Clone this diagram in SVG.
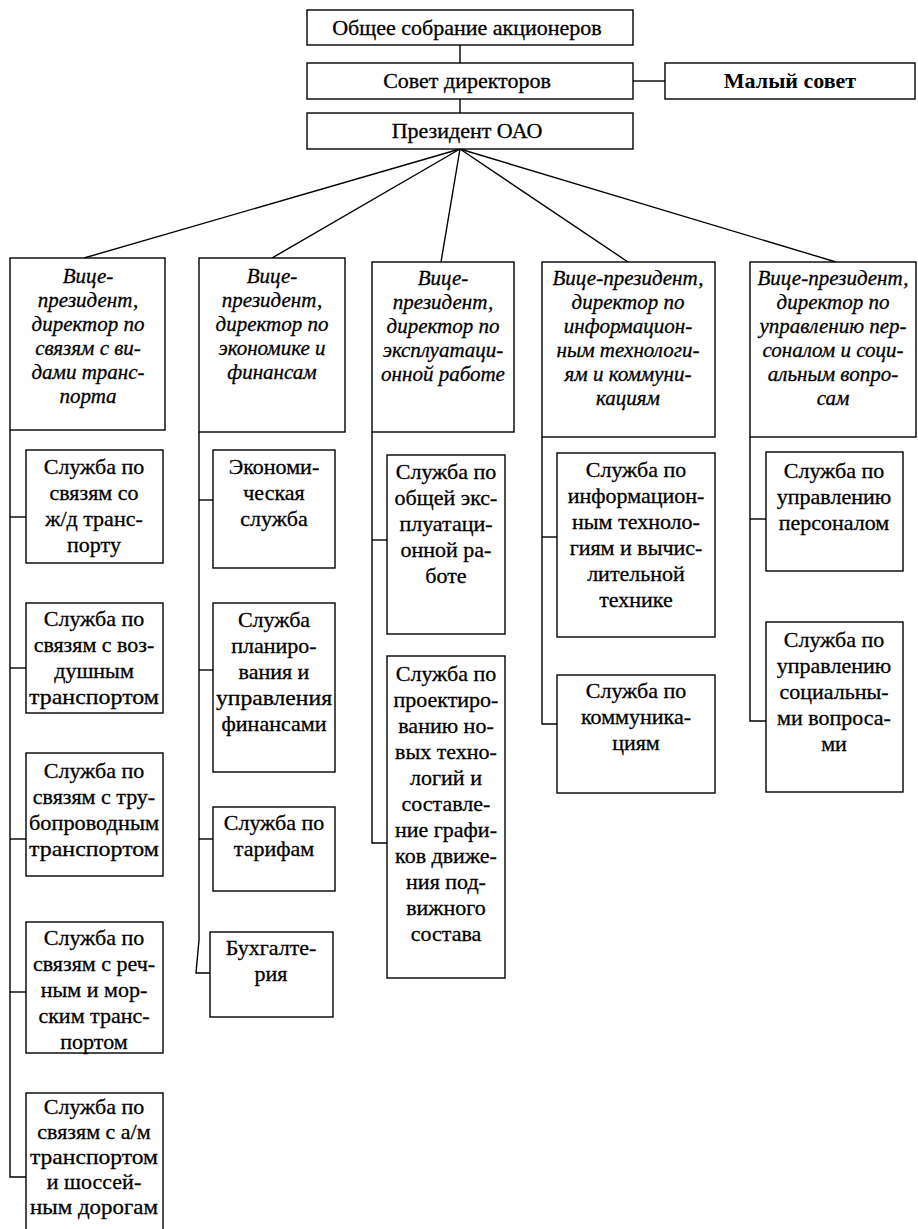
<svg xmlns="http://www.w3.org/2000/svg" width="918" height="1229" viewBox="0 0 918 1229">
<style>
rect{fill:#fff;stroke:#000;stroke-width:1.4}
.c line,.c polyline{stroke:#000;stroke-width:1.4;fill:none}
text{font-family:'Liberation Serif','DejaVu Serif',serif;font-size:22px;fill:#000;stroke:#000;stroke-width:0.3;text-anchor:middle}
.i{font-style:italic;font-size:21px}
.b{font-weight:bold;stroke-width:0}
</style>
<rect x="0" y="0" width="918" height="1229" style="fill:#fff;stroke:none"/>
<g class="c" id="connectors">
<line x1="460" y1="45" x2="460" y2="63"/>
<line x1="460" y1="99" x2="460" y2="113"/>
<line x1="633" y1="81" x2="665" y2="81"/>
<line x1="460" y1="149" x2="84" y2="258"/>
<line x1="460" y1="149" x2="272" y2="258"/>
<line x1="460" y1="149" x2="441" y2="262"/>
<line x1="460" y1="149" x2="628" y2="262"/>
<line x1="460" y1="149" x2="836" y2="262"/>
<polyline points="10,430 10,1177 26,1177"/>
<line x1="10" y1="517" x2="26" y2="517"/>
<line x1="10" y1="668" x2="26" y2="668"/>
<line x1="10" y1="839" x2="26" y2="839"/>
<line x1="10" y1="992" x2="26" y2="992"/>
<polyline points="199,432 199,940 196,973 210,973"/>
<line x1="199" y1="500" x2="213" y2="500"/>
<line x1="199" y1="670" x2="213" y2="670"/>
<line x1="199" y1="839" x2="213" y2="839"/>
<polyline points="372,432 372,843 387,843"/>
<line x1="372" y1="540" x2="387" y2="540"/>
<polyline points="542,437 542,724 557,724"/>
<line x1="542" y1="537" x2="557" y2="537"/>
<polyline points="750,437 750,721 766,721"/>
<line x1="750" y1="519" x2="766" y2="519"/>
</g>
<g id="n-obshee"><rect x="307" y="10" width="326" height="35"/><text x="467" y="35">Общее собрание акционеров</text></g>
<g id="n-sovet"><rect x="307" y="63" width="326" height="36"/><text x="467" y="88">Совет директоров</text></g>
<g id="n-maly"><rect x="665" y="63" width="250" height="36"/><text class="b" x="790" y="88">Малый совет</text></g>
<g id="n-prez"><rect x="307" y="113" width="326" height="36"/><text x="467" y="138">Президент ОАО</text></g>

<g id="n-vp1"><rect x="10" y="258" width="155" height="172"/>
<text class="i" x="88"><tspan x="88" y="283">Вице-</tspan><tspan x="88" y="307">президент,</tspan><tspan x="88" y="331">директор по</tspan><tspan x="88" y="355">связям с ви-</tspan><tspan x="88" y="379">дами транс-</tspan><tspan x="88" y="403">порта</tspan></text></g>
<g id="n-vp2"><rect x="199" y="258" width="146" height="174"/>
<text class="i" x="272"><tspan x="272" y="283">Вице-</tspan><tspan x="272" y="307">президент,</tspan><tspan x="272" y="331">директор по</tspan><tspan x="272" y="355">экономике и</tspan><tspan x="272" y="379">финансам</tspan></text></g>
<g id="n-vp3"><rect x="372" y="262" width="142" height="170"/>
<text class="i" x="443"><tspan x="443" y="285">Вице-</tspan><tspan x="443" y="309">президент,</tspan><tspan x="443" y="333">директор по</tspan><tspan x="443" y="357">эксплуатаци-</tspan><tspan x="443" y="381">онной работе</tspan></text></g>
<g id="n-vp4"><rect x="542" y="262" width="173" height="175"/>
<text class="i" x="628"><tspan x="628" y="285">Вице-президент,</tspan><tspan x="628" y="309">директор по</tspan><tspan x="628" y="333">информацион-</tspan><tspan x="628" y="357">ным технологи-</tspan><tspan x="628" y="381">ям и коммуни-</tspan><tspan x="628" y="405">кациям</tspan></text></g>
<g id="n-vp5"><rect x="750" y="262" width="166" height="175"/>
<text class="i" x="833"><tspan x="833" y="285">Вице-президент,</tspan><tspan x="833" y="309">директор по</tspan><tspan x="833" y="333">управлению пер-</tspan><tspan x="833" y="357">соналом и соци-</tspan><tspan x="833" y="381">альным вопро-</tspan><tspan x="833" y="405">сам</tspan></text></g>

<g id="n-1a"><rect x="26" y="450" width="137" height="113"/>
<text><tspan x="94" y="474">Служба по</tspan><tspan x="94" y="500">связям со</tspan><tspan x="94" y="526">ж/д транс-</tspan><tspan x="94" y="552">порту</tspan></text></g>
<g id="n-1b"><rect x="26" y="603" width="137" height="110"/>
<text><tspan x="94" y="626">Служба по</tspan><tspan x="94" y="652">связям с воз-</tspan><tspan x="94" y="678">душным</tspan><tspan x="94" y="704" textLength="130" lengthAdjust="spacingAndGlyphs">транспортом</tspan></text></g>
<g id="n-1c"><rect x="26" y="753" width="137" height="123"/>
<text><tspan x="94" y="778">Служба по</tspan><tspan x="94" y="804">связям с  тру-</tspan><tspan x="94" y="830" textLength="130" lengthAdjust="spacingAndGlyphs">бопроводным</tspan><tspan x="94" y="856" textLength="130" lengthAdjust="spacingAndGlyphs">транспортом</tspan></text></g>
<g id="n-1d"><rect x="26" y="922" width="137" height="131"/>
<text><tspan x="94" y="945">Служба по</tspan><tspan x="94" y="971">связям с реч-</tspan><tspan x="94" y="997">ным и мор-</tspan><tspan x="94" y="1023">ским транс-</tspan><tspan x="94" y="1049">портом</tspan></text></g>
<g id="n-1e"><rect x="26" y="1093" width="137" height="150"/>
<text><tspan x="94" y="1114">Служба по</tspan><tspan x="94" y="1139">связям с а/м</tspan><tspan x="94" y="1164" textLength="128" lengthAdjust="spacingAndGlyphs">транспортом</tspan><tspan x="94" y="1189">и шоссей-</tspan><tspan x="94" y="1214" textLength="128" lengthAdjust="spacingAndGlyphs">ным дорогам</tspan></text></g>

<g id="n-2a"><rect x="213" y="450" width="122" height="118"/>
<text><tspan x="274" y="474">Экономи-</tspan><tspan x="274" y="500">ческая</tspan><tspan x="274" y="526">служба</tspan></text></g>
<g id="n-2b"><rect x="213" y="603" width="122" height="169"/>
<text><tspan x="274" y="627">Служба</tspan><tspan x="274" y="653">планиро-</tspan><tspan x="274" y="679">вания и</tspan><tspan x="274" y="705" textLength="116" lengthAdjust="spacingAndGlyphs">управления</tspan><tspan x="274" y="731">финансами</tspan></text></g>
<g id="n-2c"><rect x="213" y="807" width="122" height="84"/>
<text><tspan x="274" y="830">Служба по</tspan><tspan x="274" y="856">тарифам</tspan></text></g>
<g id="n-2d"><rect x="210" y="932" width="123" height="85"/>
<text><tspan x="271" y="955">Бухгалте-</tspan><tspan x="271" y="981">рия</tspan></text></g>

<g id="n-3a"><rect x="387" y="455" width="118" height="179"/>
<text><tspan x="446" y="479">Служба по</tspan><tspan x="446" y="505">общей экс-</tspan><tspan x="446" y="531">плуатаци-</tspan><tspan x="446" y="557">онной ра-</tspan><tspan x="446" y="583">боте</tspan></text></g>
<g id="n-3b"><rect x="387" y="656" width="118" height="322"/>
<text><tspan x="446" y="681">Служба по</tspan><tspan x="446" y="707">проектиро-</tspan><tspan x="446" y="733">ванию но-</tspan><tspan x="446" y="759">вых техно-</tspan><tspan x="446" y="785">логий и</tspan><tspan x="446" y="811">составле-</tspan><tspan x="446" y="837">ние графи-</tspan><tspan x="446" y="863">ков движе-</tspan><tspan x="446" y="889">ния под-</tspan><tspan x="446" y="915">вижного</tspan><tspan x="446" y="941">состава</tspan></text></g>

<g id="n-4a"><rect x="557" y="453" width="158" height="184"/>
<text><tspan x="636" y="477">Служба по</tspan><tspan x="636" y="503">информацион-</tspan><tspan x="636" y="529">ным техноло-</tspan><tspan x="636" y="555">гиям и вычис-</tspan><tspan x="636" y="581">лительной</tspan><tspan x="636" y="607">технике</tspan></text></g>
<g id="n-4b"><rect x="557" y="675" width="158" height="118"/>
<text><tspan x="636" y="698">Служба по</tspan><tspan x="636" y="724">коммуника-</tspan><tspan x="636" y="750">циям</tspan></text></g>

<g id="n-5a"><rect x="766" y="452" width="137" height="119"/>
<text><tspan x="834" y="478">Служба по</tspan><tspan x="834" y="504">управлению</tspan><tspan x="834" y="530">персоналом</tspan></text></g>
<g id="n-5b"><rect x="766" y="622" width="137" height="170"/>
<text><tspan x="834" y="647">Служба по</tspan><tspan x="834" y="673">управлению</tspan><tspan x="834" y="699">социальны-</tspan><tspan x="834" y="725">ми вопроса-</tspan><tspan x="834" y="751">ми</tspan></text></g>
</svg>
